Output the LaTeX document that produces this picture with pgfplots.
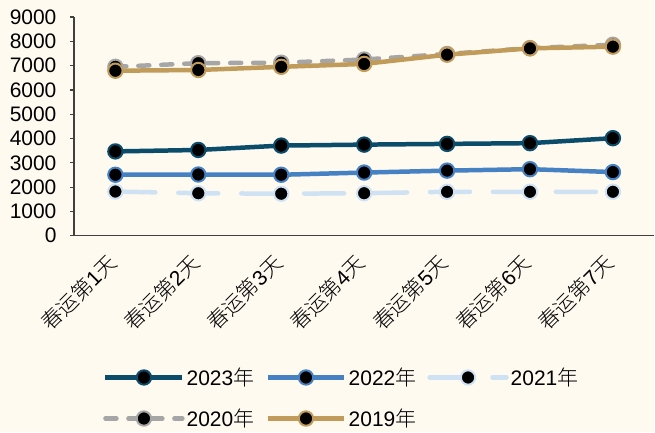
\documentclass[border=0pt]{standalone}
\usepackage{pgfplots}
\pgfplotsset{compat=1.18}
\usepackage{fontspec}
\setmainfont{Liberation Sans}
\newfontfamily\cjk{Noto Sans CJK SC}[UprightFont={* Light}]

\definecolor{bgcream}{RGB}{254,250,240}
\definecolor{c2023}{RGB}{10,76,106}
\definecolor{c2022}{RGB}{70,130,195}
\definecolor{c2021}{RGB}{207,226,243}
\definecolor{c2020}{RGB}{166,166,166}
\definecolor{c2019}{RGB}{192,155,90}
\definecolor{axisgray}{RGB}{64,64,64}

\newcommand{\dayname}[1]{{\cjk 春运第}#1{\cjk 天}}
\newcommand{\yr}[1]{#1{\cjk 年}}

\begin{document}
\begin{tikzpicture}
% page background, 655 x 432
\fill[bgcream] (-74bp,-196bp) rectangle (581bp,236bp);
\begin{axis}[
  at={(0,0)}, anchor=south west,
  scale only axis,
  width=581bp, height=219bp,
  xmin=-0.5, xmax=6.5,
  ymin=0, ymax=9000,
  axis lines=left,
  axis line style={-, draw=axisgray, line width=1.3bp},
  xtick={0,...,6},
  xticklabels={\dayname{1},\dayname{2},\dayname{3},\dayname{4},\dayname{5},\dayname{6},\dayname{7}},
  xtick style={draw=none},
  minor xtick={0.5,1.5,...,5.5},
  minor tick length=7bp,
  every minor tick/.append style={draw=axisgray, line width=1.3bp},
  tick align=inside,
  ytick={0,1000,...,9000},
  major tick length=4bp,
  every major y tick/.append style={xshift=-4bp, draw=axisgray, line width=1.3bp},
  scaled y ticks=false,
  /pgf/number format/fixed,
  /pgf/number format/1000 sep={},
  /pgf/number format/assume math mode=true,
  tick label style={font=\fontsize{21bp}{25bp}\selectfont, text=black},
  yticklabel style={xshift=-14bp},
  xticklabel style={rotate=45, anchor=east, inner sep=1bp, xshift=-3bp},
  xticklabel shift=20bp,
  legend columns=3,
  legend cell align=left,
  legend style={
    at={(axis description cs:0.045,-0.585)}, anchor=north west,
    draw=none, fill=none,
    font=\fontsize{21bp}{25bp}\selectfont,
    /tikz/every even column/.append style={column sep=9bp},
    row sep=18bp,
  },
  legend image code/.code={
    \draw[mark repeat=2, mark phase=2, #1]
      plot coordinates {(0bp,0bp) (38.5bp,0bp) (77bp,0bp)};
  },
  every axis plot/.append style={line width=4.5bp, line join=round},
  mark size=7.2bp,
]
\addplot[color=c2023, mark=*, mark options={fill=black, draw=c2023, line width=2bp, solid}]
  coordinates {(0,3470) (1,3530) (2,3710) (3,3750) (4,3780) (5,3810) (6,4015)};
\addlegendentry{\yr{2023}}

\addplot[color=c2022, mark=*, mark options={fill=black, draw=c2022, line width=2bp, solid}]
  coordinates {(0,2510) (1,2520) (2,2510) (3,2600) (4,2680) (5,2740) (6,2620)};
\addlegendentry{\yr{2022}}

\addplot[color=c2021, line cap=round, dash pattern=on 40bp off 23bp,
  mark=*, mark options={fill=black, draw=c2021, line width=2bp, solid}]
  coordinates {(0,1820) (1,1750) (2,1730) (3,1750) (4,1810) (5,1810) (6,1810)};
\addlegendentry{\yr{2021}}

\addplot[color=c2020, line cap=round, dash pattern=on 11bp off 12bp,
  mark=*, mark options={fill=black, draw=c2020, line width=2bp, solid}]
  coordinates {(0,6950) (1,7100) (2,7120) (3,7250) (4,7480) (5,7720) (6,7860)};
\addlegendentry{\yr{2020}}

\addplot[color=c2019, mark=*, mark options={fill=black, draw=c2019, line width=2bp, solid}]
  coordinates {(0,6790) (1,6820) (2,6950) (3,7070) (4,7450) (5,7710) (6,7780)};
\addlegendentry{\yr{2019}}
\end{axis}
\end{tikzpicture}
\end{document}
